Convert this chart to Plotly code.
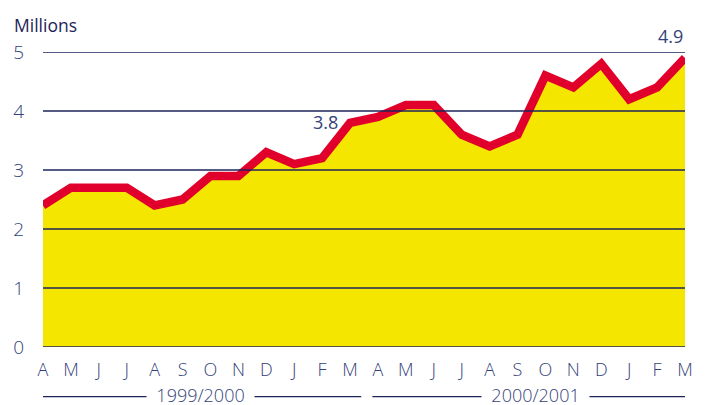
import plotly.graph_objects as go

months = ["A", "M", "J", "J", "A", "S", "O", "N", "D", "J", "F", "M",
          "A", "M", "J", "J", "A", "S", "O", "N", "D", "J", "F", "M"]
values = [2.4, 2.7, 2.7, 2.7, 2.4, 2.5, 2.9, 2.9, 3.3, 3.1, 3.2, 3.8,
          3.9, 4.1, 4.1, 3.6, 3.4, 3.6, 4.6, 4.4, 4.8, 4.2, 4.4, 4.9]
y_ticks = [0, 1, 2, 3, 4, 5]
groups = [("1999/2000", 0, 11), ("2000/2001", 12, 23)]

YELLOW = "#F5E600"
RED = "#E1002B"
NAVY = "#1C2558"
TEXT = "#34427A"
FONT = "Open Sans"

x = list(range(len(months)))

fig = go.Figure()
fig.add_trace(go.Scatter(x=x, y=values, mode="lines", fill="tozeroy",
                         fillcolor=YELLOW, line=dict(width=0, color=YELLOW),
                         hoverinfo="skip"))
fig.add_trace(go.Scatter(x=x, y=values, mode="lines",
                         line=dict(width=8.5, color=RED), hoverinfo="skip"))

shapes = []
for t in y_ticks:
    shapes.append(dict(type="line", xref="paper", yref="y", x0=0, x1=1, y0=t, y1=t,
                       line=dict(color=NAVY, width=1.6), layer="above"))

annotations = []
for label, s, e in groups:
    x0 = max(s - 0.2, 0)
    x1 = min(e + 0.4, len(months) - 1)
    shapes.append(dict(type="line", xref="x", yref="paper", x0=x0, x1=x1,
                       y0=-0.168, y1=-0.168, line=dict(color=NAVY, width=1.3)))
    annotations.append(dict(x=(s + e) / 2 + 0.15, y=-0.168, xref="x", yref="paper",
                            text="&nbsp;&nbsp;" + label + "&nbsp;&nbsp;",
                            showarrow=False, bgcolor="white",
                            borderpad=0, xanchor="center", yanchor="middle",
                            yshift=2,
                            font=dict(family=FONT, size=18, color=TEXT, weight=300)))

annotations.append(dict(x=11, y=3.8, xref="x", yref="y", text="3.8", showarrow=False,
                        xanchor="right", yanchor="middle", xshift=-10, yshift=1,
                        font=dict(family=FONT, size=18, color=TEXT, weight=400)))
annotations.append(dict(x=23, y=4.9, xref="x", yref="y", text="4.9", showarrow=False,
                        xanchor="right", yanchor="bottom", xshift=0, yshift=8,
                        font=dict(family=FONT, size=18, color=TEXT, weight=400)))
annotations.append(dict(x=-0.048, y=1.09, xref="paper", yref="paper", text="Millions",
                        showarrow=False, xanchor="left", yanchor="middle",
                        font=dict(family=FONT, size=17.5, color=NAVY, weight=400)))

fig.update_layout(
    width=697, height=397,
    margin=dict(l=35, r=20, t=44, b=58, autoexpand=False),
    paper_bgcolor="white", plot_bgcolor="white",
    showlegend=False,
    shapes=shapes, annotations=annotations,
    font=dict(family=FONT, color=TEXT, size=18, weight=300),
    xaxis=dict(range=[0, len(months) - 1], tickvals=x, ticktext=months,
               showgrid=False, zeroline=False, showline=False, ticks="",
               ticklabelstandoff=10, fixedrange=True, automargin=False,
               tickfont=dict(family=FONT, size=18, color=TEXT, weight=300)),
    yaxis=dict(range=[0, 5], tickvals=y_ticks, showgrid=False, zeroline=False,
               showline=False, ticks="", ticklabelstandoff=18, fixedrange=True,
               automargin=False,
               tickfont=dict(family=FONT, size=19, color=TEXT, weight=300)),
)

fig.write_html("out.html")
